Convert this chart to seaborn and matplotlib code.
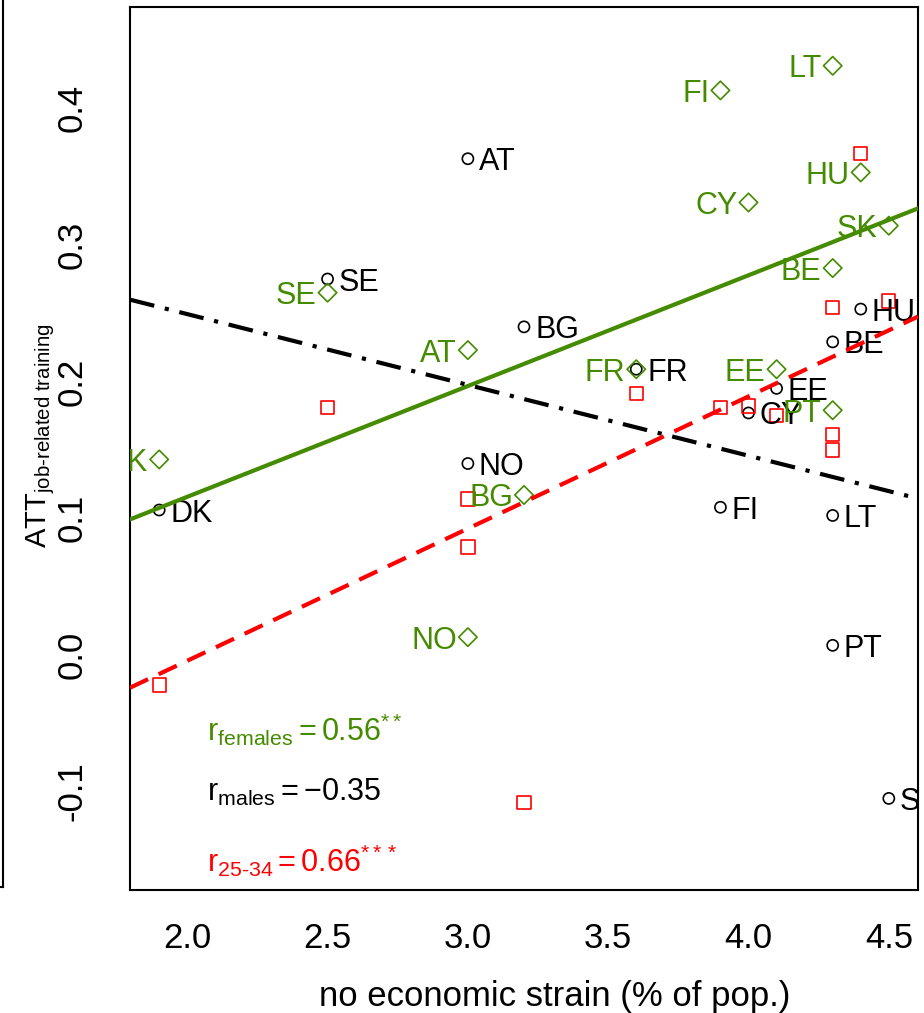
import numpy as np
import pandas as pd
import matplotlib
matplotlib.use("Agg")
import matplotlib.pyplot as plt
import seaborn as sns

# Country data: economic strain vs. ATT of job-related training
countries = ["DK", "SE", "AT", "NO", "BG", "FR", "FI", "CY", "EE", "BE", "LT", "PT", "HU", "SK"]
strain = [1.9, 2.5, 3.0, 3.0, 3.2, 3.6, 3.9, 4.0, 4.1, 4.3, 4.3, 4.3, 4.4, 4.5]
att_females = [0.143, 0.265, 0.223, 0.013, 0.117, 0.209, 0.413, 0.331, 0.209, 0.283, 0.431, 0.179, 0.353, 0.314]
att_males = [0.106, 0.275, 0.363, 0.140, 0.240, 0.209, 0.108, 0.177, 0.195, 0.229, 0.102, 0.007, 0.253, -0.105]
att_25_34 = [-0.022, 0.181, 0.114, 0.079, -0.108, 0.191, 0.181, 0.182, 0.175, 0.254, 0.161, 0.150, 0.367, 0.259]

x_ticks = [2.0, 2.5, 3.0, 3.5, 4.0, 4.5]
y_ticks = [-0.1, 0.0, 0.1, 0.2, 0.3, 0.4]

GREEN = "#458B00"
RED = "#FF0000"
BLACK = "#000000"

df = pd.DataFrame({"country": countries, "strain": strain,
                   "females": att_females, "males": att_males, "y2534": att_25_34})

sns.set_style("white")
plt.rcParams["font.family"] = ["Liberation Sans", "DejaVu Sans"]
plt.rcParams["mathtext.fontset"] = "custom"
plt.rcParams["mathtext.rm"] = "Liberation Sans"
plt.rcParams["mathtext.it"] = "Liberation Sans:italic"
plt.rcParams["mathtext.default"] = "regular"
plt.rcParams["text.color"] = "black"
plt.rcParams["axes.labelcolor"] = "black"

fig = plt.figure(figsize=(9.24, 10.13), dpi=100)
W, H = 924, 1013
ax = fig.add_axes([130 / W, (H - 890) / H, 788 / W, 883 / H])

# neighbouring panel frame at the far left edge
ax_prev = fig.add_axes([-0.4, (H - 887) / H, 0.4 + 3 / W, 0.2 + 887 / H])
ax_prev.set_xticks([])
ax_prev.set_yticks([])
for s in ax_prev.spines.values():
    s.set_linewidth(1.5)
    s.set_color("black")

xlim = (1.796, 4.604)
ylim = (-0.172, 0.474)
ax.set_xlim(*xlim)
ax.set_ylim(*ylim)

mk_lw = 1.2
sns.scatterplot(data=df, x="strain", y="males", marker="o", s=64,
                facecolors="none", edgecolors=BLACK, linewidths=mk_lw, ax=ax, zorder=3)
sns.scatterplot(data=df, x="strain", y="females", marker="D", s=88,
                facecolors="none", edgecolors=GREEN, linewidths=mk_lw, ax=ax, zorder=3)
sns.scatterplot(data=df, x="strain", y="y2534", marker="s", s=92,
                facecolors="none", edgecolors=RED, linewidths=mk_lw, ax=ax, zorder=3)

# country labels: males to the right, females to the left
for c, xv, yv in zip(countries, strain, att_males):
    ax.annotate(c, (xv, yv), xytext=(8, 0), textcoords="offset points",
                ha="left", va="center_baseline", fontsize=22, color=BLACK,
                clip_on=True, zorder=4)
for c, xv, yv in zip(countries, strain, att_females):
    ax.annotate(c, (xv, yv), xytext=(-8, 0), textcoords="offset points",
                ha="right", va="center_baseline", fontsize=22, color=GREEN,
                clip_on=True, zorder=4)

# least-squares lines across the full plotting range
ax.set_xlim(*xlim)
sns.regplot(data=df, x="strain", y="females", scatter=False, ci=None, truncate=False,
            ax=ax, line_kws=dict(color=GREEN, lw=3, zorder=5))
sns.regplot(data=df, x="strain", y="males", scatter=False, ci=None, truncate=False,
            ax=ax, line_kws=dict(color=BLACK, lw=3, dashes=(6.0, 2.6, 1.0, 2.6), zorder=5))
sns.regplot(data=df, x="strain", y="y2534", scatter=False, ci=None, truncate=False,
            ax=ax, line_kws=dict(color=RED, lw=3, dashes=(4.8, 2.8), zorder=5))

ax.set_xlim(*xlim)
ax.set_ylim(*ylim)

# correlation annotations
ax.text(2.071, -0.052, r"$r_{females}=0.56^{**}$", color=GREEN, fontsize=22,
        ha="left", va="center_baseline")
ax.text(2.071, -0.098, r"$r_{males}=-0.35$", color=BLACK, fontsize=22,
        ha="left", va="center_baseline")
ax.text(2.071, -0.148, r"$r_{\text{25-34}}=0.66^{***}$", color=RED, fontsize=22,
        ha="left", va="center_baseline")

ax.set_xticks(x_ticks)
ax.set_xticklabels([f"{t:.1f}" for t in x_ticks])
ax.set_yticks(y_ticks)
ax.set_yticklabels([f"{t:.1f}" for t in y_ticks], rotation=90, va="center")
ax.tick_params(axis="both", direction="out", length=15, width=1.5, color="black",
               labelsize=25, labelcolor="black")
ax.tick_params(axis="x", pad=8)
ax.tick_params(axis="y", pad=15)
for s in ax.spines.values():
    s.set_visible(True)
    s.set_linewidth(1.5)
    s.set_color("black")

ax.set_xlabel("no economic strain (% of pop.)", fontsize=25, color="black")
ax.set_ylabel(r"ATT$_{\text{job-related training}}$", fontsize=21, color="black")
ax.xaxis.set_label_coords(0.539, -0.102)
ax.yaxis.set_label_coords(-0.093, 0.515)

fig.savefig("out.png", dpi=100)
